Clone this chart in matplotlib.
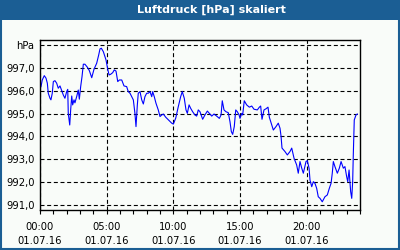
import matplotlib
matplotlib.use('Agg')
import matplotlib.pyplot as plt
from matplotlib.patches import Rectangle
from matplotlib.ticker import MultipleLocator

# hours since 01.07.16 00:00 and pressure in hPa
hours = [0.0, 0.075, 0.17, 0.32, 0.45, 0.55, 0.62, 0.75, 0.82, 0.92, 1.0, 1.12, 1.25, 1.37, 1.5,
         1.63, 1.75, 1.87, 2.0, 2.08, 2.12, 2.23, 2.30, 2.38, 2.45, 2.55, 2.62, 2.75, 2.87, 2.95,
         3.05, 3.15, 3.25, 3.37, 3.55, 3.70, 3.88, 4.05, 4.25, 4.40, 4.5, 4.60, 4.75, 4.95, 5.08,
         5.18, 5.30, 5.45, 5.57, 5.70, 5.83, 5.95, 6.13, 6.30, 6.50, 6.62, 6.75, 6.88, 7.0, 7.12,
         7.2, 7.30, 7.37, 7.5, 7.63, 7.75, 7.87, 8.0, 8.12, 8.25, 8.38, 8.45, 8.57, 8.7, 8.87,
         9.0, 9.13, 9.25, 9.43, 9.62, 9.88, 10.0, 10.18, 10.37, 10.55, 10.67, 10.82, 10.95, 11.05, 11.18,
         11.30, 11.45, 11.62, 11.75, 11.87, 12.0, 12.2, 12.37, 12.55, 12.7, 12.88, 13.05, 13.25, 13.45, 13.58,
         13.67, 13.8, 13.95, 14.12, 14.25, 14.35, 14.45, 14.57, 14.68, 14.8, 14.93, 15.0, 15.13, 15.2, 15.32,
         15.5, 15.7, 15.88, 16.05, 16.3, 16.45, 16.55, 16.65, 16.8, 16.95, 17.1, 17.2, 17.38, 17.5, 17.7,
         17.87, 18.0, 18.08, 18.15, 18.37, 18.55, 18.75, 18.88, 19.05, 19.25, 19.37, 19.5, 19.63, 19.75, 19.95,
         20.05, 20.18, 20.25, 20.38, 20.5, 20.62, 20.75, 20.87, 21.0, 21.17, 21.37, 21.55, 21.7, 21.83, 21.92,
         22.0, 22.12, 22.3, 22.45, 22.58, 22.75, 22.87, 23.0, 23.08, 23.18, 23.3, 23.38, 23.45, 23.5, 23.55,
         23.57, 23.7, 23.8]
pressure = [996.11, 996.18, 996.47, 996.66, 996.55, 996.33, 995.89, 995.67, 995.60, 995.89, 996.40, 996.44, 996.33, 996.11, 996.21,
            996.00, 995.81, 995.67, 995.96, 996.06, 995.01, 994.50, 995.16, 995.77, 995.38, 995.60, 995.47, 995.74, 996.03, 995.63,
            996.18, 996.61, 997.16, 997.16, 997.03, 996.88, 996.57, 996.94, 997.20, 997.56, 997.83, 997.86, 997.71, 997.35, 996.94,
            996.69, 996.72, 996.79, 996.91, 996.86, 996.40, 996.47, 996.47, 996.21, 996.18, 995.96, 995.89, 995.74, 995.60, 995.01,
            994.43, 995.38, 995.89, 995.96, 995.60, 995.42, 995.74, 995.89, 995.89, 995.96, 995.74, 995.96, 995.74, 995.45, 995.16,
            994.87, 994.94, 994.98, 994.84, 994.73, 994.58, 994.54, 994.80, 995.30, 995.74, 995.96, 995.67, 995.16, 995.01, 995.38,
            995.23, 995.08, 994.94, 994.89, 995.16, 995.08, 994.75, 994.94, 995.11, 995.01, 994.89, 994.98, 994.89, 994.79, 994.94,
            995.56, 995.16, 995.08, 995.04, 994.64, 994.21, 994.09, 994.43, 995.16, 995.08, 994.94, 994.79, 995.01, 994.94, 995.56,
            995.38, 995.28, 995.33, 995.19, 995.16, 995.28, 995.33, 994.75, 995.16, 995.21, 995.28, 994.84, 994.50, 994.28, 994.43,
            994.58, 994.36, 994.00, 993.49, 993.34, 993.19, 993.34, 993.49, 993.05, 992.75, 992.39, 992.90, 992.61, 992.39, 992.90,
            992.94, 992.61, 992.09, 991.80, 992.02, 991.95, 991.73, 991.36, 991.29, 991.14, 991.36, 991.44, 991.73, 991.95, 992.39,
            992.90, 992.68, 992.39, 992.61, 992.90, 992.61, 992.68, 992.24, 992.02, 992.53, 991.58, 991.29, 992.02, 993.26, 994.28,
            994.72, 994.94, 994.98]

y_ticks = [991, 992, 993, 994, 995, 996, 997, 998]
y_labels = ['991,0', '992,0', '993,0', '994,0', '995,0', '996,0', '997,0', 'hPa']
x_ticks = [0, 5, 10, 15, 20]
x_labels = ['00:00\n01.07.16', '05:00\n01.07.16', '10:00\n01.07.16', '15:00\n01.07.16', '20:00\n01.07.16']
title = 'Luftdruck [hPa] skaliert'

blue = '#1b5e94'
bg = '#f9fcf9'

fig = plt.figure(figsize=(4, 2.5), dpi=100)
fig.patch.set_facecolor(bg)

# title bar and outer frame
fig.patches.append(Rectangle((0, 0.92), 1, 0.08, transform=fig.transFigure,
                             facecolor=blue, edgecolor='none', zorder=0))
fig.patches.append(Rectangle((0.0025, 0.004), 0.995, 0.992, transform=fig.transFigure,
                             facecolor='none', edgecolor=blue, linewidth=1.5, zorder=1))
fig.text(0.528, 0.96, title, color='white', fontsize=8, fontweight='bold',
         ha='center', va='center')

ax = fig.add_axes([0.1, 0.16, 0.8, 0.68])
ax.set_facecolor(bg)
ax.plot(hours, pressure, color='#0000ff', linewidth=0.8)

ax.set_xlim(0, 24)
ax.set_ylim(990.78, 998.22)
ax.set_yticks(y_ticks)
ax.set_yticklabels(y_labels)
ax.set_xticks(x_ticks)
ax.set_xticklabels(x_labels)
ax.xaxis.set_minor_locator(MultipleLocator(1))
for lbl in ax.get_xticklabels():
    lbl.set_linespacing(1.5)

ax.tick_params(axis='y', length=0, pad=4, labelsize=7.2)
ax.tick_params(axis='x', which='both', length=3, width=0.8, pad=6, labelsize=7.2, direction='out')

ax.grid(True, color='black', linestyle=(0, (3.6, 2.4)), linewidth=0.8)
for sp in ax.spines.values():
    sp.set_linewidth(1.0)

fig.savefig('out.png', dpi=100, facecolor=fig.get_facecolor())
